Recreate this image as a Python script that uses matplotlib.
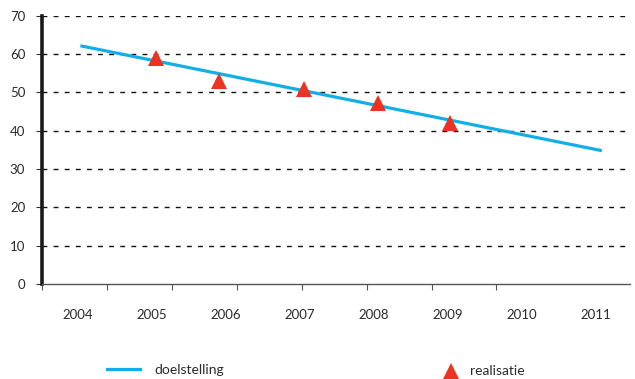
import numpy as np
import matplotlib
matplotlib.use("Agg")
import matplotlib.pyplot as plt
from matplotlib.lines import Line2D

# gegevens
jaren = ["2004", "2005", "2006", "2007", "2008", "2009", "2010", "2011"]
doel_x = [0.03, 7.08]
doel_y = [62.2, 34.8]
real_x = [1.05, 1.9, 3.05, 4.05, 5.03]
real_y = [59.0, 53.0, 51.0, 47.3, 42.0]
y_ticks = [0, 10, 20, 30, 40, 50, 60, 70]

blauw = "#12aee6"
rood = "#ea3323"
tekst = "#2b2b2b"

plt.rcParams["font.family"] = ["Lato", "DejaVu Sans"]

fig = plt.figure(figsize=(6.35, 3.79), dpi=100)
ax = fig.add_axes([0.066, 0.251, 0.926, 0.707])

ax.plot(doel_x, doel_y, color=blauw, lw=2.3, solid_capstyle="butt", zorder=3)
ax.plot(real_x, real_y, ls="none", marker="^", ms=12, color=rood,
        markeredgewidth=0, zorder=4)

ax.set_xlim(-0.49, 7.46)
ax.set_ylim(0, 70)

# stippellijnen
for v in y_ticks[1:]:
    ax.axhline(v, color="#111111", lw=1.0, ls=(0, (3.5, 4.5)), zorder=1)

ax.set_yticks(y_ticks)
ax.set_yticklabels([str(v) for v in y_ticks], fontsize=9.5, color=tekst)
ax.tick_params(axis="y", length=4, width=0.8, pad=8, color="#333333")

ax.set_xticks(range(len(jaren)))
ax.set_xticklabels(jaren, fontsize=9.5, color=tekst)
ax.tick_params(axis="x", which="major", length=0, pad=18)
ax.set_xticks(-0.49 + np.arange(8) * 0.878, minor=True)
ax.tick_params(axis="x", which="minor", length=4, width=0.8, color="#555555")

for s in ["top", "right"]:
    ax.spines[s].set_visible(False)
ax.spines["left"].set_linewidth(2.6)
ax.spines["left"].set_color("#1a1a1a")
ax.spines["bottom"].set_linewidth(1.0)
ax.spines["bottom"].set_color("#555555")

# legenda
h1 = Line2D([], [], color=blauw, lw=2.3)
h2 = Line2D([], [], ls="none", marker="^", ms=12, color=rood, markeredgewidth=0)
leg1 = fig.legend(handles=[h1], labels=["doelstelling"], loc="center left",
                  bbox_to_anchor=(0.16, 0.024), frameon=False, fontsize=10,
                  handlelength=2.4, handletextpad=1.0, labelcolor=tekst,
                  borderaxespad=0)
leg2 = fig.legend(handles=[h2], labels=["realisatie"], loc="center left",
                  bbox_to_anchor=(0.69, 0.02), frameon=False, fontsize=10,
                  handlelength=1.0, handletextpad=0.9, labelcolor=tekst,
                  borderaxespad=0)

fig.savefig("out.png", dpi=100)
